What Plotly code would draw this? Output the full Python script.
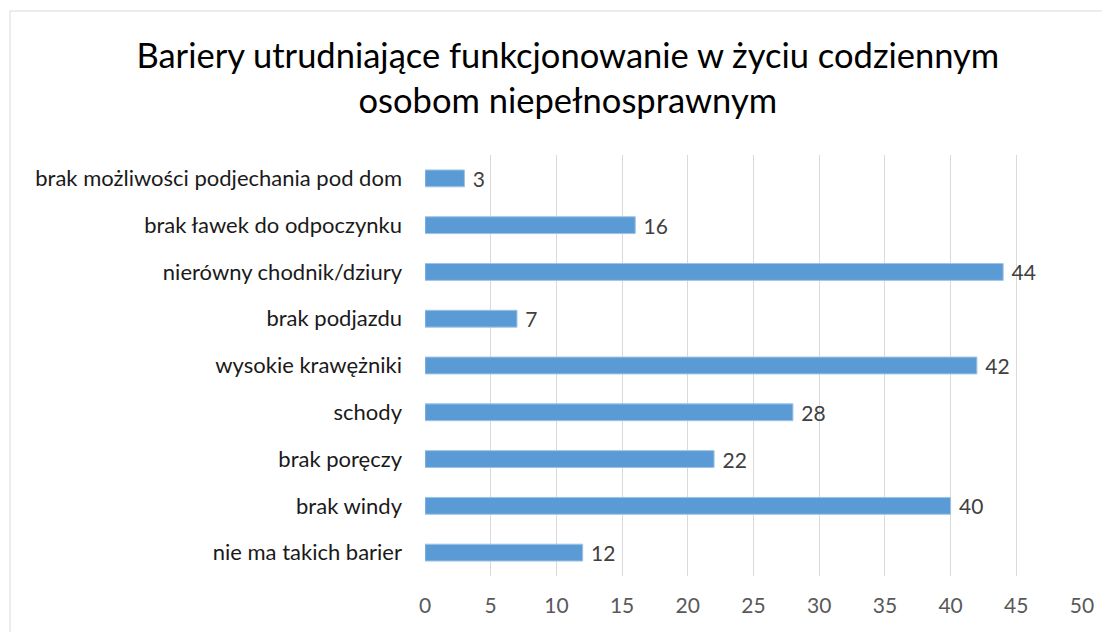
import plotly.graph_objects as go

# categories listed top to bottom as in the chart
categories = [
    "brak możliwości podjechania pod dom",
    "brak ławek do odpoczynku",
    "nierówny chodnik/dziury",
    "brak podjazdu",
    "wysokie krawężniki",
    "schody",
    "brak poręczy",
    "brak windy",
    "nie ma takich barier",
]
values = [3, 16, 44, 7, 42, 28, 22, 40, 12]
x_ticks = [0, 5, 10, 15, 20, 25, 30, 35, 40, 45, 50]

title = "Bariery utrudniające funkcjonowanie w życiu codziennym<br>osobom niepełnosprawnym"
font_family = "Lato, 'Open Sans', sans-serif"

# the page body adds an 8px offset, so the figure is 8px smaller than the window
W, H = 1102, 624
left, right, top, bottom = 417, 28, 147, 56

fig = go.Figure()
fig.add_trace(go.Bar(
    y=categories,
    x=values,
    orientation="h",
    marker=dict(color="#5B9BD5", line=dict(color="#9DC3E6", width=1)),
    texttemplate=" %{x}",
    textposition="outside",
    constraintext="none",
    textfont=dict(size=21, color="#404040", family=font_family),
    cliponaxis=False,
))

# chart border, partly outside the page like in the original
pw = W - left - right
ph = H - top - bottom
fig.add_shape(
    type="rect", xref="paper", yref="paper",
    x0=(2 - left) / pw, x1=(W + 5 - left) / pw,
    y0=-(bottom + 5) / ph, y1=1 + (top - 3) / ph,
    line=dict(color="#D9D9D9", width=1), layer="below",
)

fig.update_layout(
    width=W, height=H,
    margin=dict(l=left, r=right, t=top, b=bottom),
    paper_bgcolor="white", plot_bgcolor="white",
    font=dict(family=font_family, color="#404040"),
    title=dict(
        text=title, x=0.508, xanchor="center", y=0.904, yanchor="middle",
        font=dict(size=34.5, color="#000000", family=font_family),
    ),
    bargap=0.64,
    showlegend=False,
    xaxis=dict(
        range=[0, 50], tickvals=x_ticks, showgrid=True, gridcolor="#D9D9D9",
        gridwidth=1, zeroline=False, showline=False, ticks="",
        tickfont=dict(size=21, color="#595959"), ticklabelstandoff=15,
    ),
    yaxis=dict(
        categoryorder="array", categoryarray=categories[::-1],
        showgrid=False, zeroline=False, showline=False, ticks="",
        ticklabelstandoff=22, tickfont=dict(size=22, color="#1a1a1a"),
    ),
)

fig.write_html("out.html")
